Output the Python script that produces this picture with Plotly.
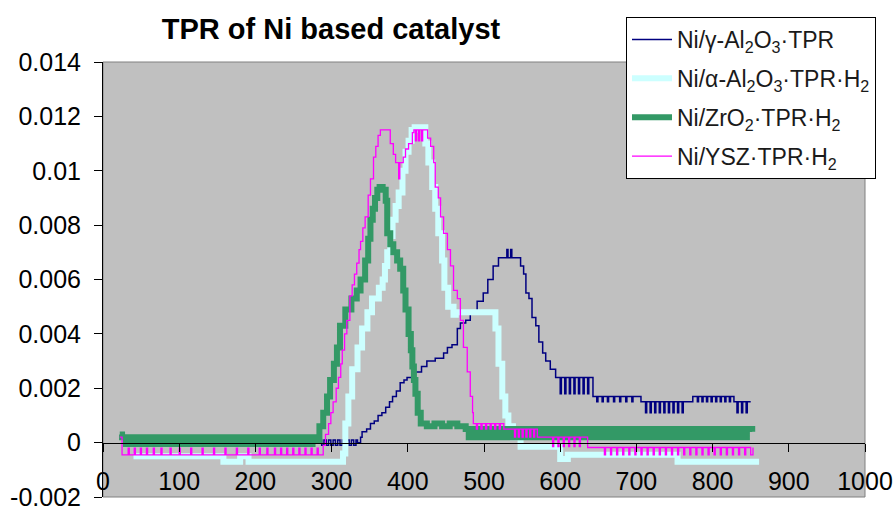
import plotly.graph_objects as go

# ---------------- data (temperature, signal) ----------------
title_text = "TPR of Ni based catalyst"
series_names = [
    "Ni/γ-Al<sub>2</sub>O<sub>3</sub>·TPR",
    "Ni/α-Al<sub>2</sub>O<sub>3</sub>·TPR·H<sub>2</sub>",
    "Ni/ZrO<sub>2</sub>·TPR·H<sub>2</sub>",
    "Ni/YSZ·TPR·H<sub>2</sub>",
]
x_ticks = [0, 100, 200, 300, 400, 500, 600, 700, 800, 900, 1000]
x_ticktext = ["0", "100", "200", "300", "400", "500", "600", "700", "800", "900", "1000"]
y_ticks = [-0.002, 0, 0.002, 0.004, 0.006, 0.008, 0.01, 0.012, 0.014]
y_ticktext = ["-0.002", "0", "0.002", "0.004", "0.006", "0.008", "0.01", "0.012", "0.014"]

gamma_al2o3 = [
    (42, 0.0001), (45, -0.0001), (48, 0.0001), (51, -0.0001), (54, 0.0001), (57, -0.0001),
    (60, 0.0001), (63, -0.0001), (66, 0.0001), (69, -0.0001), (72, 0.0001), (75, -0.0001),
    (78, 0.0001), (81, -0.0001), (84, 0.0001), (87, -0.0001), (90, 0.0001), (93, -0.0001),
    (96, 0.0001), (99, -0.0001), (102, 0.0001), (105, -0.0001), (108, 0.0001), (111, -0.0001),
    (114, 0.0001), (117, -0.0001), (120, 0.0001), (123, -0.0001), (126, 0.0001), (129, -0.0001),
    (132, 0.0), (280, 0.0),
    (284, 0.0001), (287, -0.0001), (290, 0.0001), (293, -0.0001), (296, 0.0001), (299, -0.0001),
    (302, 0.0001), (305, -0.0001), (308, 0.0001), (311, -0.0001), (314, 0.0001), (317, -0.0001),
    (320, 0.0001), (323, -0.0001), (326, 0.0001), (329, -0.0001), (332, 0.0001),
    (334, 0.0), (338, 0.0002), (340, 0.0004), (346, 0.0005), (351, 0.0007), (356, 0.0008),
    (361, 0.0010), (366, 0.0011), (371, 0.0013), (376, 0.0015), (380, 0.0017), (385, 0.0019),
    (390, 0.0022), (395, 0.0023), (399, 0.0024), (410, 0.0026), (418, 0.0028), (425, 0.0030),
    (436, 0.0031), (447, 0.0033), (452, 0.0035), (458, 0.0036), (465, 0.0042), (469, 0.0044),
    (476, 0.0045), (482, 0.0048), (491, 0.0052), (499, 0.0055), (505, 0.0060), (512, 0.0065),
    (519, 0.0068), (528, 0.0068), (530, 0.0071), (531.5, 0.0068), (535, 0.0071), (536.5, 0.0068),
    (541, 0.0068), (548, 0.0065), (552, 0.0062), (555, 0.0055), (559, 0.0053), (563, 0.0046),
    (568, 0.0043), (572, 0.0037), (577, 0.0033), (581, 0.0030), (587, 0.0027), (594, 0.0024),
    (600, 0.0018), (601.5, 0.0024), (606, 0.0018), (607.5, 0.0024), (612, 0.0018), (613.5, 0.0024),
    (618, 0.0018), (619.5, 0.0024), (624, 0.0018), (625.5, 0.0024), (630, 0.0018), (631.5, 0.0024),
    (636, 0.0018), (637.5, 0.0024),
    (643, 0.0017), (648, 0.0015), (649.5, 0.0017), (655, 0.0015), (656.5, 0.0017), (662, 0.0015),
    (663.5, 0.0017), (670, 0.0015), (671.5, 0.0017), (678, 0.0015), (679.5, 0.0017), (686, 0.0015),
    (687.5, 0.0017), (694, 0.0015), (695.5, 0.0017),
    (706, 0.0015), (712, 0.0011), (713.5, 0.0015), (718, 0.0011), (719.5, 0.0015), (724, 0.0011),
    (725.5, 0.0015), (730, 0.0011), (731.5, 0.0015), (736, 0.0011), (737.5, 0.0015), (742, 0.0011),
    (743.5, 0.0015), (748, 0.0011), (749.5, 0.0015), (754, 0.0011), (755.5, 0.0015), (760, 0.0011),
    (761.5, 0.0015),
    (774, 0.0017), (780, 0.0015), (781.5, 0.0017), (786, 0.0015), (787.5, 0.0017), (792, 0.0015),
    (793.5, 0.0017), (798, 0.0015), (799.5, 0.0017), (804, 0.0015), (805.5, 0.0017), (810, 0.0015),
    (811.5, 0.0017), (816, 0.0015), (817.5, 0.0017), (822, 0.0015), (823.5, 0.0017),
    (828, 0.0015), (832, 0.0011), (833.5, 0.0015), (838, 0.0011), (839.5, 0.0015), (844, 0.0011),
    (845.5, 0.0015), (850, 0.0015),
]

alpha_al2o3 = [
    (40, -0.0005), (158, -0.0007), (180, -0.0005), (191, -0.0007), (312, -0.0007), (315, -0.0004),
    (318, 0.0007), (322, 0.0017), (327, 0.0027), (334, 0.0035), (340, 0.0042), (347, 0.0048),
    (353, 0.0053), (362, 0.0057), (367, 0.0060), (370, 0.0065), (373, 0.0070), (377, 0.0076),
    (380, 0.0082), (384, 0.0087), (388, 0.0092), (393, 0.0100), (397, 0.0107), (401, 0.0111),
    (405, 0.0115), (409, 0.0116), (419, 0.0116), (423, 0.0110), (427, 0.0103), (432, 0.0094),
    (436, 0.0086), (440, 0.0077), (445, 0.0067), (448, 0.0057), (453, 0.0050), (460, 0.0047),
    (463, 0.0048), (509, 0.0048), (515, 0.0042), (519, 0.0029), (524, 0.0017), (528, 0.0010),
    (532, 0.0006), (538, 0.0002), (548, -0.00015), (600, -0.0006), (610, -0.00045),
    (754, -0.0007), (861, -0.0007),
]

zro2 = [
    (22, 0.0003), (25, 0.0002), (30, -0.00005), (35, 0.0002), (40, -0.00005), (45, 0.0002),
    (50, -0.00005), (55, 0.0002), (60, -0.00005), (65, 0.0002), (70, -0.00005), (75, 0.0002),
    (80, -0.00005), (85, 0.0002), (90, -0.00005), (95, 0.0002), (100, -0.00005), (105, 0.0002),
    (110, -0.00005), (115, 0.0002), (120, -0.00005), (125, 0.0002), (130, -0.00005), (135, 0.0002),
    (140, -0.00005), (145, 0.0002), (150, -0.00005), (155, 0.0002), (160, -0.00005), (165, 0.0002),
    (170, -0.00005), (175, 0.0002), (180, -0.00005), (185, 0.0002), (190, -0.00005), (195, 0.0002),
    (200, -0.00005), (205, 0.0002), (210, -0.00005), (215, 0.0002), (220, -0.00005), (225, 0.0002),
    (230, -0.00005), (235, 0.0002), (240, -0.00005), (245, 0.0002), (250, -0.00005), (255, 0.0002),
    (260, -0.00005), (265, 0.0002), (270, -0.00005), (275, 0.0002), (280, 0.0001),
    (284, 0.0006), (289, 0.0011), (294, 0.0017), (298, 0.0023), (303, 0.0029), (307, 0.0035),
    (311, 0.0043), (318, 0.0049), (326, 0.0053), (333, 0.0056), (338, 0.0060), (344, 0.0067),
    (348, 0.0075), (351, 0.0082), (354, 0.0086), (357, 0.0090), (360, 0.0093), (363, 0.0094),
    (367, 0.0093), (371, 0.0089), (373, 0.0077), (377, 0.0073), (381, 0.0070), (386, 0.0067),
    (390, 0.0064), (394, 0.0056), (397, 0.0049), (401, 0.0040), (404, 0.0034), (406, 0.0028),
    (408, 0.0023), (410, 0.0018), (413, 0.0011), (417, 0.0007), (425, 0.0006), (435, 0.0007),
    (445, 0.0006), (455, 0.0007), (465, 0.0006), (476, 0.0005),
    (480, 0.0002), (485, 0.0005), (490, 0.0002), (495, 0.0005), (500, 0.0002), (505, 0.0005),
    (510, 0.0002), (515, 0.0005), (520, 0.0002), (525, 0.0005), (530, 0.0002), (535, 0.0005),
    (540, 0.0002), (545, 0.0005), (550, 0.0002), (555, 0.0005), (560, 0.0002), (565, 0.0005),
    (570, 0.0002), (575, 0.0005), (580, 0.0002), (585, 0.0005), (590, 0.0002), (595, 0.0005),
    (600, 0.0002), (605, 0.0005), (610, 0.0002), (615, 0.0005), (620, 0.0002), (625, 0.0005),
    (630, 0.0002), (635, 0.0005), (640, 0.0002), (645, 0.0005), (650, 0.0002), (655, 0.0005),
    (660, 0.0002), (665, 0.0005), (670, 0.0002), (675, 0.0005), (680, 0.0002), (685, 0.0005),
    (690, 0.0002), (695, 0.0005), (700, 0.0002), (705, 0.0005), (710, 0.0002), (715, 0.0005),
    (720, 0.0002), (725, 0.0005), (730, 0.0002), (735, 0.0005), (740, 0.0002), (745, 0.0005),
    (750, 0.0002), (755, 0.0005), (760, 0.0002), (765, 0.0005), (770, 0.0002), (775, 0.0005),
    (780, 0.0002), (785, 0.0005), (790, 0.0002), (795, 0.0005), (800, 0.0002), (805, 0.0005),
    (810, 0.0002), (815, 0.0005), (820, 0.0002), (825, 0.0005), (830, 0.0002), (835, 0.0005),
    (840, 0.0002), (845, 0.0005), (852, 0.0004),
]

ysz = [
    (22, 0.0002), (25, -0.00045),
    (33, -0.0002), (34.5, -0.00045), (41, -0.0002), (42.5, -0.00045), (49, -0.0002), (50.5, -0.00045),
    (57, -0.0002), (58.5, -0.00045), (66, -0.0002), (67.5, -0.00045), (76, -0.0002), (77.5, -0.00045),
    (88, -0.0002), (89.5, -0.00045), (100, -0.0002), (101.5, -0.00045), (115, -0.0002), (116.5, -0.00045),
    (130, -0.0002), (131.5, -0.00045), (145, -0.0002), (146.5, -0.00045), (160, -0.0002), (161.5, -0.00045),
    (175, -0.0002), (176.5, -0.00045), (190, -0.0002), (191.5, -0.00045), (205, -0.0002), (206.5, -0.00045),
    (215, -0.0002), (216.5, -0.00045), (225, -0.0002), (226.5, -0.00045), (233, -0.0002), (234.5, -0.00045),
    (241, -0.0002), (242.5, -0.00045), (249, -0.0002), (250.5, -0.00045), (257, -0.0002), (258.5, -0.00045),
    (265, -0.0002), (266.5, -0.00045), (273, -0.0002), (274.5, -0.00045), (281, -0.0002), (282.5, -0.00045),
    (289, -0.0001), (292, 0.0003), (296, 0.0007), (299, 0.0011), (302, 0.0015), (306, 0.0020),
    (309, 0.0024), (312, 0.0029), (314, 0.0034), (317, 0.0040), (320, 0.0045), (324, 0.0054),
    (327, 0.0058), (330, 0.0062), (333, 0.0066), (336, 0.0071), (338, 0.0074), (341, 0.0079),
    (344, 0.0083), (348, 0.0091), (351, 0.0097), (355, 0.0105), (358, 0.0109), (361, 0.0113),
    (364, 0.0115), (373, 0.0115), (377, 0.0110), (381, 0.0106), (384, 0.0103), (388, 0.0097),
    (389.5, 0.0103), (394, 0.0105), (397, 0.0108), (401, 0.0110), (406, 0.0114), (408, 0.0115),
    (410, 0.0111), (411.5, 0.0115), (414, 0.0111), (415.5, 0.0115), (418, 0.0111), (419.5, 0.0115),
    (426, 0.0112), (430, 0.0109), (434, 0.0103), (436, 0.0094), (440, 0.0090), (443, 0.0083),
    (447, 0.0077), (452, 0.0071), (456, 0.0065), (460, 0.0056), (465, 0.0053), (469, 0.0045),
    (473, 0.0035), (478, 0.0026), (482, 0.0017), (485, 0.0011), (486, 0.0007),
    (490, 0.0005), (491.5, 0.0007), (496, 0.0005), (497.5, 0.0007), (502, 0.0005), (503.5, 0.0007),
    (508, 0.0005), (509.5, 0.0007), (514, 0.0005), (515.5, 0.0007), (520, 0.0005), (521.5, 0.0007),
    (526, 0.0005), (540, 0.0002), (541.5, 0.0005), (545, 0.0002), (546.5, 0.0005), (550, 0.0002),
    (551.5, 0.0005), (555, 0.0002), (556.5, 0.0005), (560, 0.0002), (561.5, 0.0005), (565, 0.0002),
    (566.5, 0.0005), (570, 0.0002),
    (590, -0.00015), (591.5, 0.0002), (597, -0.00015), (598.5, 0.0002), (604, -0.00015), (605.5, 0.0002),
    (611, -0.00015), (612.5, 0.0002), (618, -0.00015), (619.5, 0.0002), (625, -0.00015), (626.5, 0.0002),
    (636, -0.00018),
    (658, -0.00045), (659.5, -0.00018), (666, -0.00045), (667.5, -0.00018), (674, -0.00045), (675.5, -0.00018),
    (682, -0.00045), (683.5, -0.00018), (690, -0.00045), (691.5, -0.00018), (698, -0.00045), (699.5, -0.00018),
    (706, -0.00045), (707.5, -0.00018), (714, -0.00045), (715.5, -0.00018), (722, -0.00045), (723.5, -0.00018),
    (730, -0.00045), (731.5, -0.00018), (738, -0.00045), (739.5, -0.00018), (746, -0.00045), (747.5, -0.00018),
    (754, -0.00045), (755.5, -0.00018), (762, -0.00045), (763.5, -0.00018), (770, -0.00045), (771.5, -0.00018),
    (778, -0.00045), (779.5, -0.00018), (786, -0.00045), (787.5, -0.00018), (794, -0.00045), (795.5, -0.00018),
    (802, -0.00045), (803.5, -0.00018), (810, -0.00045), (811.5, -0.00018), (818, -0.00045), (819.5, -0.00018),
    (826, -0.00045), (827.5, -0.00018), (834, -0.00045), (835.5, -0.00018), (842, -0.00045), (843.5, -0.00018),
    (850, -0.00045), (853, -0.00018),
]

# ---------------- figure ----------------
FONT = "Arial, 'Liberation Sans', sans-serif"
series = [gamma_al2o3, alpha_al2o3, zro2, ysz]
colors = ["#000080", "#CCFFFF", "#339966", "#FF00FF"]
widths = [1.5, 6, 6, 1.3]

fig = go.Figure()
for i, (name, data, color, w) in enumerate(zip(series_names, series, colors, widths)):
    fig.add_trace(go.Scatter(
        x=[p[0] for p in data], y=[p[1] for p in data],
        mode="lines", name=name, legendgroup=f"g{i}",
        line=dict(color=color, width=w, shape="hv"),
        hoverinfo="skip",
    ))

fig.update_layout(
    width=894, height=506,
    margin=dict(l=103, r=29, t=62, b=9),
    paper_bgcolor="white", plot_bgcolor="#C0C0C0",
    font=dict(family=FONT, size=24, color="black"),
    title=dict(text=title_text, x=331 / 894, xref="container", xanchor="center",
               y=1 - 29 / 506, yref="container", yanchor="middle",
               font=dict(family=FONT, size=29, color="black", weight="bold")),
    showlegend=True,
    legend=dict(x=(626 - 103) / 762, xanchor="left", y=(497 - 17) / 435, yanchor="top",
                bgcolor="white", bordercolor="black", borderwidth=1, tracegroupgap=6,
                font=dict(family=FONT, size=23, color="#1a1a1a"), itemwidth=40),
    xaxis=dict(range=[0, 1000], tickvals=x_ticks, ticktext=x_ticktext, automargin=False,
               anchor="free", position=0.125, showline=True, linecolor="black", linewidth=1,
               ticks="outside", ticklen=8, tickcolor="black", showgrid=False, zeroline=False,
               ticklabelstandoff=8, ticklabeloverflow="allow",
               tickfont=dict(family=FONT, size=25, color="black")),
    yaxis=dict(range=[-0.002, 0.014], tickvals=y_ticks, ticktext=y_ticktext, automargin=False,
               showline=True, linecolor="black", linewidth=1,
               ticks="outside", ticklen=8, tickcolor="black", showgrid=False, zeroline=False,
               ticklabelstandoff=8, ticklabeloverflow="allow",
               tickfont=dict(family=FONT, size=25, color="black")),
    shapes=[dict(type="rect", xref="paper", yref="paper", x0=0, x1=1, y0=0, y1=1,
                 line=dict(color="#808080", width=1), layer="below")],
)

fig.write_html("out.html")
